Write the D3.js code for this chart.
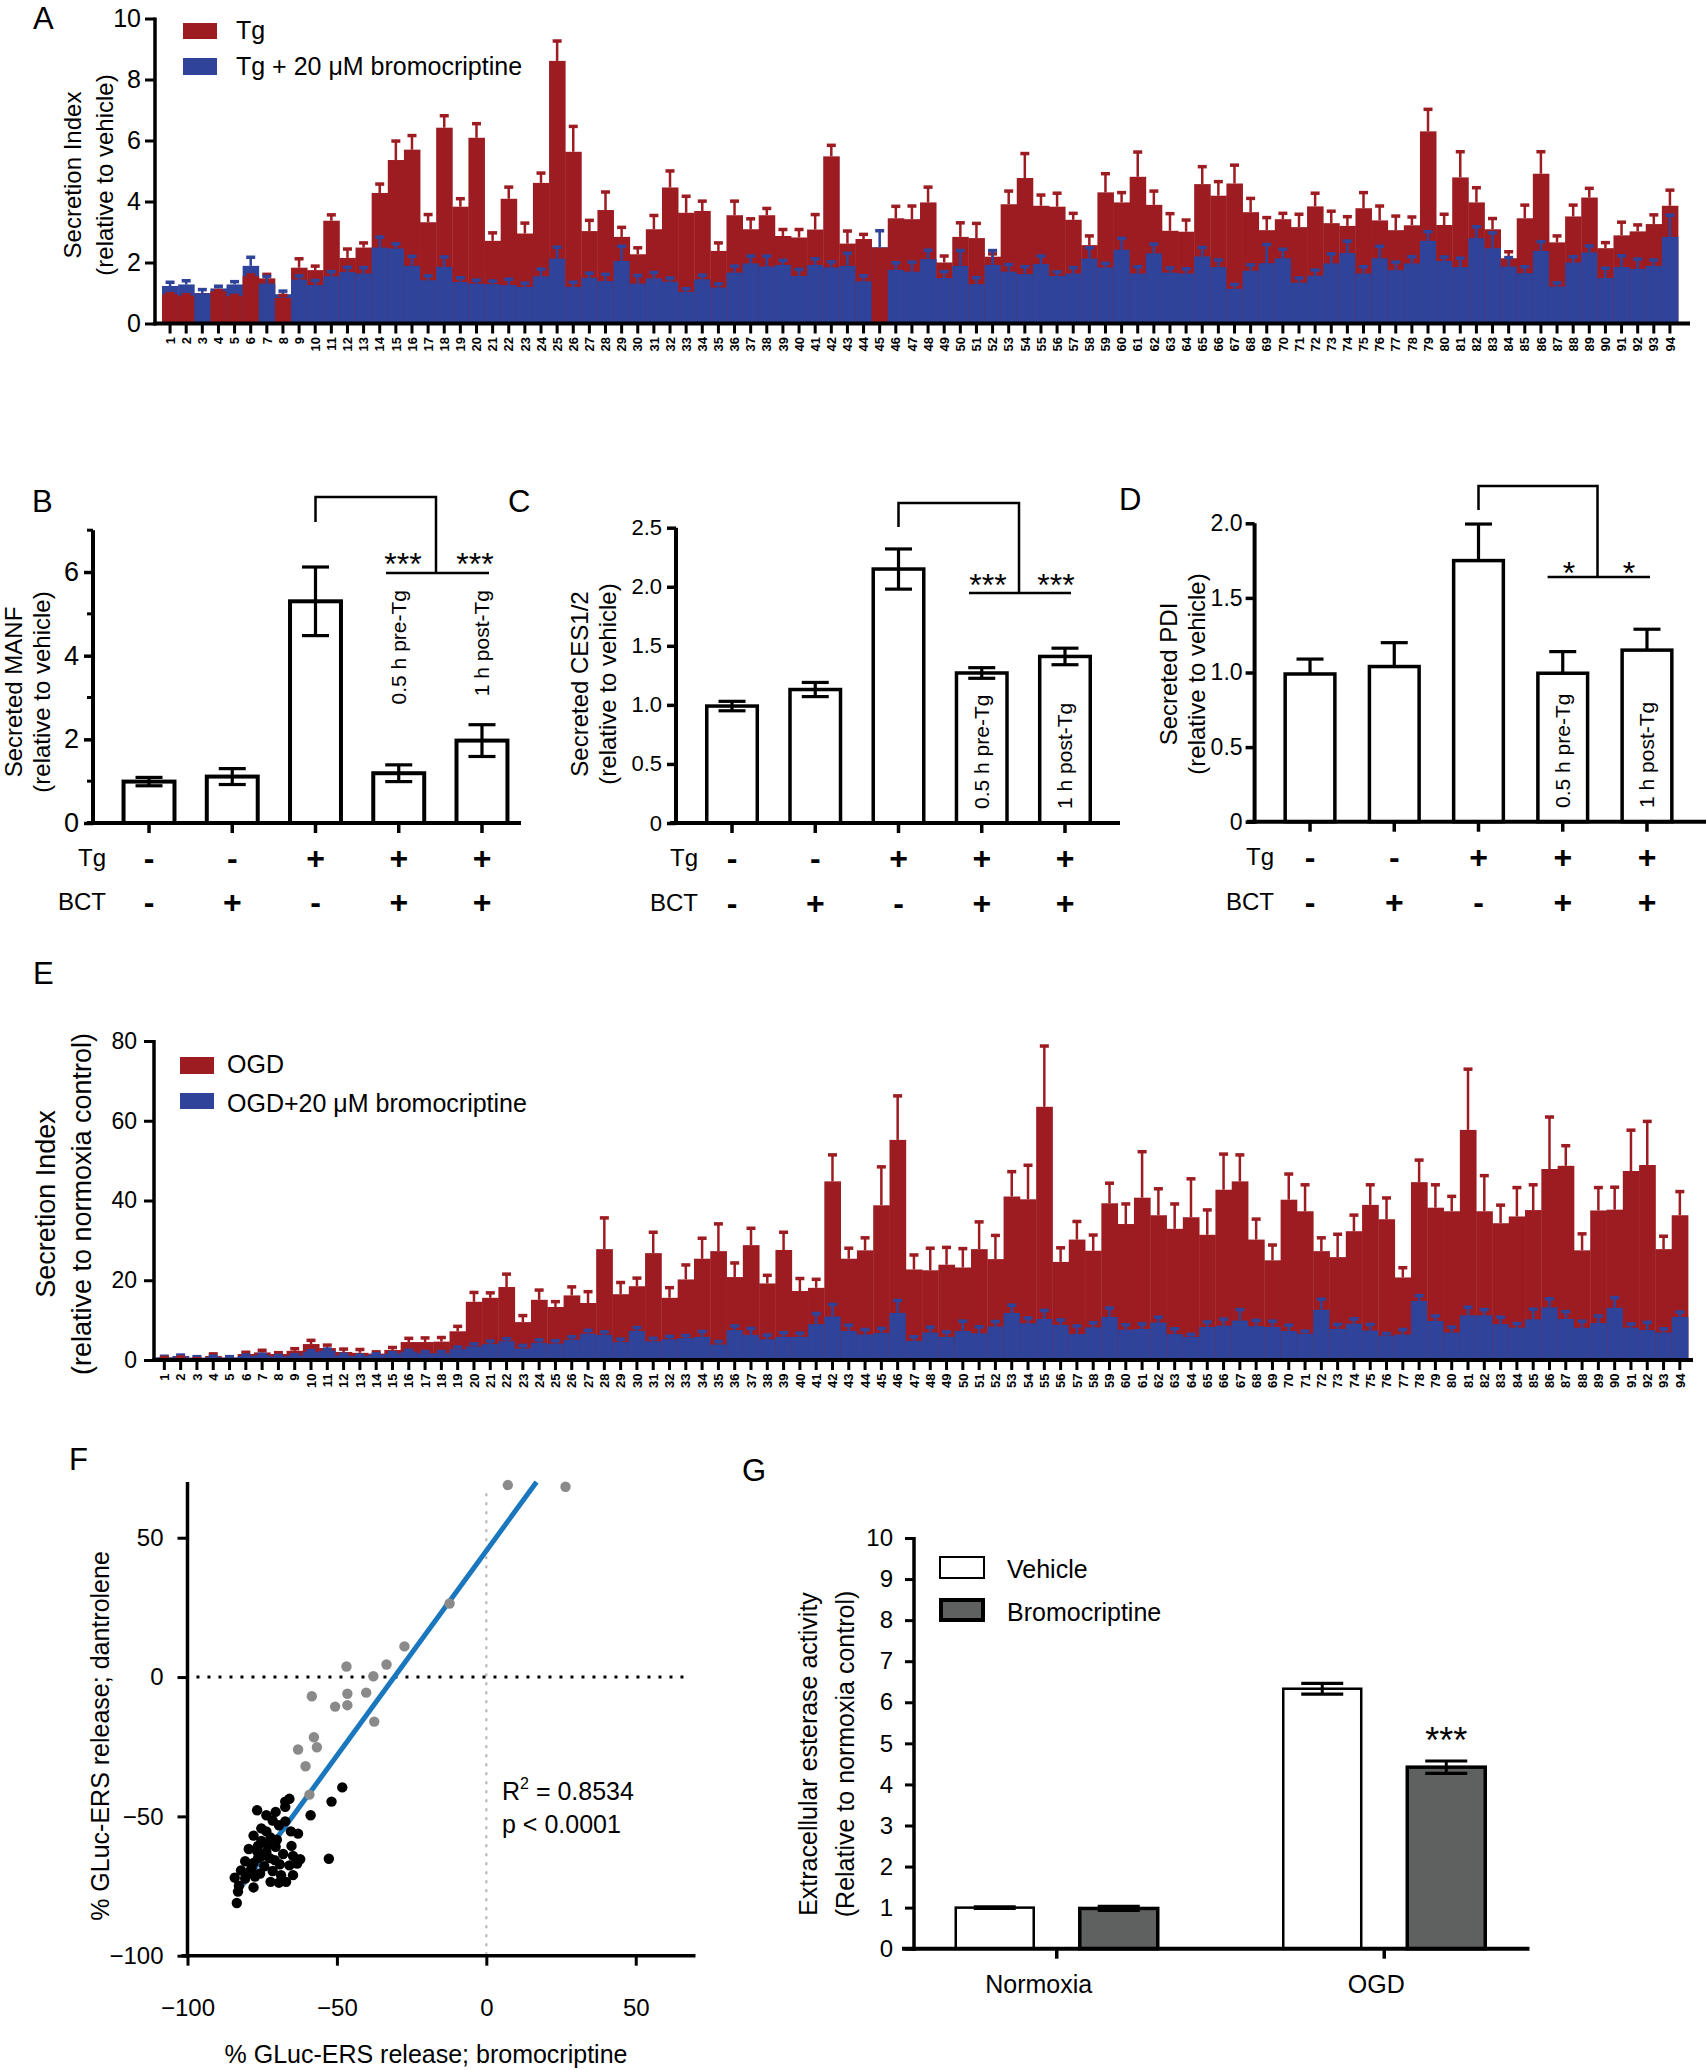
<!DOCTYPE html>
<html><head><meta charset="utf-8">
<script src="https://cdn.jsdelivr.net/npm/d3@7"></script>
<style>
body{margin:0;background:#fff;}
svg{display:block;}
</style></head><body>
<svg id="fig" width="1706" height="2070"></svg>
<script>
// ---------------- DATA ----------------
const wells = d3.range(1, 95).map(String);

// Panel A: Tg vs Tg + 20 uM bromocriptine
const aTg = [0.96,0.91,1.0,1.06,0.9,1.55,1.48,0.84,1.83,1.75,
 3.37,2.15,2.49,4.28,5.36,5.70,3.32,6.42,3.83,6.09,
 2.71,4.09,2.95,4.61,8.61,5.63,3.03,3.72,2.84,2.27,
 3.09,4.46,3.63,3.69,2.38,3.55,3.09,3.55,2.87,2.82,
 3.08,5.48,2.62,2.77,2.49,3.45,3.42,3.97,2.0,2.84,
 2.8,2.19,3.91,4.77,3.86,3.83,3.4,2.57,4.3,3.97,
 4.81,3.89,3.04,3.01,4.57,4.19,4.59,3.65,3.06,3.42,
 3.16,3.84,3.29,3.2,3.78,3.38,3.06,3.22,6.3,3.23,
 4.79,3.97,3.09,2.14,3.45,4.91,2.66,3.51,4.13,2.47,
 2.89,3.02,3.26,3.86];
const aTgErr = [0.03,0.04,0,0.03,0.03,0.05,0.14,0.09,0.3,0.14,
 0.2,0.3,0.16,0.3,0.63,0.47,0.26,0.4,0.27,0.47,
 0.27,0.39,0.35,0.33,0.66,0.84,0.36,0.6,0.32,0.22,
 0.46,0.55,0.55,0.33,0.27,0.47,0.35,0.23,0.22,0.27,
 0.5,0.37,0.42,0.16,0,0.4,0.44,0.51,0.22,0.47,
 0.49,0.1,0.44,0.81,0.36,0.45,0.22,0.31,0.62,0.33,
 0.82,0.46,0.57,0.39,0.58,0.47,0.61,0.46,0.42,0.2,
 0.43,0.44,0.4,0.31,0.52,0.48,0.47,0.28,0.73,0.36,
 0.85,0.49,0.36,0.22,0.44,0.73,0.22,0.38,0.31,0.19,
 0.44,0.22,0.31,0.52];
const aBct = [1.23,1.28,0.99,1.15,1.28,1.89,1.31,0.96,1.44,1.26,
 1.55,1.69,1.64,2.49,2.46,1.89,1.42,1.86,1.36,1.31,
 1.29,1.26,1.2,1.55,2.13,1.2,1.5,1.39,2.05,1.31,
 1.48,1.37,1.04,1.45,1.18,1.67,1.97,1.87,1.92,1.56,
 1.92,1.84,1.89,1.38,2.5,1.76,1.7,2.11,1.49,1.89,
 1.29,1.92,1.7,1.62,1.95,1.56,1.64,2.13,1.84,2.42,
 1.64,2.3,1.67,1.64,2.2,1.85,1.14,1.73,1.98,2.14,
 1.34,1.57,1.97,2.31,1.64,2.14,1.75,1.97,2.71,2.05,
 1.85,2.8,2.47,1.87,1.65,2.38,1.21,2.0,2.33,1.49,
 1.85,1.79,1.89,2.84];
const aBctErr = [0.13,0.13,0.13,0.08,0.1,0.29,0.24,0.11,0.13,0.16,
 0.16,0.16,0.2,0.35,0.16,0.32,0.15,0.33,0.15,0.12,
 0.11,0.2,0.13,0.24,0.38,0.16,0.16,0.23,0.49,0.27,
 0.2,0.13,0.11,0.14,0.13,0.22,0.25,0.35,0.16,0.22,
 0.21,0.19,0.42,0.19,0.55,0.24,0.32,0.3,0.22,0.51,
 0.22,0.48,0.24,0.25,0.27,0.14,0.2,0.36,0.14,0.38,
 0.23,0.31,0.16,0.16,0.3,0.24,0.15,0.2,0.62,0.3,
 0.16,0.19,0.32,0.4,0.23,0.4,0.27,0.23,0.31,0.14,
 0.3,0.38,0.51,0.3,0.22,0.31,0.13,0.2,0.22,0.33,
 0.38,0.33,0.2,0.72];
const aYTicks = [0,2,4,6,8,10];

// Panel E: OGD vs OGD + 20 uM bromocriptine
const eOgd = [0.5,0.6,0.3,1.0,0.6,1.5,1.9,1.5,2.3,4.0,
 3.0,2.0,1.8,1.6,2.5,4.5,4.5,4.6,7.2,14.6,
 15.6,18.3,9.5,15.1,13.3,16.2,14.3,27.8,16.5,18.5,
 26.8,15.6,20.2,25.4,27.3,20.8,28.8,19.2,27.6,17.3,
 18.1,44.8,25.4,27.5,38.8,55.2,22.7,22.5,23.9,23.2,
 27.8,25.3,41.0,40.3,63.5,24.6,30.2,27.4,39.3,34.1,
 40.7,36.3,32.9,35.8,31.4,42.7,44.8,30.2,25.0,40.2,
 37.3,27.3,25.8,32.3,38.9,35.3,20.7,44.6,38.2,37.3,
 57.7,37.3,34.3,36.0,37.6,47.9,48.7,27.5,37.5,37.7,
 47.4,48.9,27.8,36.3];
const eOgdErr = [0.2,0.2,0.1,0.6,0.2,0.5,0.6,0.4,0.6,1.0,
 0.8,0.8,0.9,0.5,0.7,1.0,1.1,1.1,1.3,2.4,
 1.3,3.3,1.7,2.5,1.4,2.2,2.9,7.9,3.0,2.1,
 5.3,2.6,3.7,5.2,6.9,3.6,4.3,2.1,4.5,3.2,
 2.2,6.7,2.7,3.2,9.7,11.1,3.7,5.6,4.4,4.8,
 6.9,6.0,6.3,8.6,15.3,3.6,4.6,4.0,5.1,5.1,
 11.6,6.7,6.3,9.7,6.3,9.0,6.7,5.2,3.9,6.5,
 6.7,3.4,5.8,4.1,5.1,5.4,2.5,5.6,5.8,3.8,
 15.3,9.0,4.6,7.3,6.4,13.1,5.1,4.2,5.8,5.7,
 10.3,11.0,3.3,6.0];
const eBct = [0.7,1.0,0.6,0.7,0.6,1.0,1.2,0.9,1.1,2.0,
 2.3,1.1,1.0,1.3,1.6,2.1,1.7,1.7,2.7,3.4,
 4.0,4.7,2.9,4.3,4.1,5.1,6.6,6.3,4.5,7.3,
 4.7,5.2,5.5,5.8,3.9,7.5,6.3,5.2,5.8,5.8,
 9.0,10.9,7.3,6.4,6.8,11.8,4.8,6.9,5.8,7.3,
 6.7,8.4,11.8,9.2,10.3,8.8,6.5,8.2,10.8,7.6,
 7.8,9.4,6.5,5.8,8.3,8.6,9.9,8.5,8.3,7.3,
 6.6,12.6,7.8,9.1,7.4,6.1,6.4,14.8,9.8,6.9,
 11.2,11.2,9.0,8.1,10.2,13.2,10.3,8.1,9.3,13.1,
 8.1,7.5,6.9,10.8];
const eBctErr = [0.3,0.3,0.3,0.3,0.3,0.3,0.3,0.3,0.3,0.4,
 0.5,0.4,0.3,0.3,0.3,0.4,0.5,0.5,0.6,0.7,
 0.8,0.7,0.8,0.8,0.8,0.8,0.9,0.8,0.8,0.9,
 0.8,0.8,0.7,1.4,0.8,1.1,1.7,1.1,1.1,1.0,
 2.7,3.1,1.5,1.3,1.2,3.2,1.1,1.4,1.3,2.5,
 1.7,1.3,2.0,1.4,2.2,1.3,2.1,1.2,2.3,1.3,
 1.3,1.4,1.4,0.7,1.3,1.7,2.8,1.5,1.5,1.5,
 0.7,2.7,1.2,1.3,1.6,0.6,1.3,1.4,1.3,1.4,
 2.1,1.5,1.8,1.1,2.6,2.2,1.9,1.7,1.8,2.6,
 1.0,2.0,1.0,1.3];
const eYTicks = [0,20,40,60,80];

// Panels B-D
const bcdCats = ["c1","c2","c3","c4","c5"];
const tgSigns = ["-","-","+","+","+"];
const bctSigns = ["-","+","-","+","+"];
const bcdNotes = ["","","","0.5 h pre-Tg","1 h post-Tg"];
const bManf = [0.99,1.11,5.30,1.19,1.97];
const bManfErr = [0.10,0.19,0.82,0.20,0.38];
const bTicks = [0,2,4,6];
const bMinorTicks = [1,3,5,7];
const cCes = [0.99,1.13,2.15,1.27,1.41];
const cCesErr = [0.04,0.06,0.17,0.045,0.07];
const cTicks = [0,0.5,1.0,1.5,2.0,2.5];
const dPdi = [0.99,1.04,1.75,0.995,1.15];
const dPdiErr = [0.10,0.16,0.245,0.145,0.14];
const dTicks = [0,0.5,1.0,1.5,2.0];

// Panel F: scatter
const fGrayX = [7.2,26.5,-12.3,-27.4,-46.8,-33.4,-37.8,-40.2,-46.5,-50.6,-46.5,-58.4,-37.5,-57.7,-56.7,-63.0,-60.5,-59.2];
const fGrayY = [68.9,68.3,26.4,11.0,3.8,4.5,0.3,-5.6,-6.0,-10.6,-10.1,-6.9,-16.0,-21.6,-25.2,-26.0,-32.0,-42.2];
const fBlackX = [-48.2,-51.8,-58.8,-52.7,-65.9,-67.3,-67.3,-76.7,-70.5,-73.6,-71.5,-69.4,-75.3,-65.4,-63.0,-77.9,-72.2,-75.3,-73.2,-65.2,
 -70.5,-79.5,-76.7,-68.0,-64.7,-72.5,-62.3,-80.7,-77.9,-69.1,-74.3,-65.9,-63.3,-82.1,-79.5,-75.7,-71.5,-84.2,-80.7,-77.4,
 -64.7,-72.2,-69.4,-67.0,-82.8,-77.9,-83.1,-83.5,-73.6,-70.1,-76.4,-70.8,-75.0,-78.6,-68.7,-67.3,-73.6,-76.4];
const fBlackY = [-39.6,-44.7,-49.6,-65.2,-43.7,-44.7,-46.6,-47.8,-48.4,-49.6,-51.5,-53.2,-54.3,-55.4,-56.2,-56.9,-57.6,-58.8,-60.3,-60.6,
 -60.9,-61.7,-62.5,-63.5,-64.2,-65.0,-65.4,-66.1,-66.7,-67.2,-67.9,-67.6,-66.9,-69.4,-70.1,-70.5,-69.6,-72.0,-72.3,-71.6,
 -71.1,-73.5,-73.8,-73.5,-74.9,-75.5,-77.0,-81.1,-62.8,-58.4,-65.0,-65.7,-64.2,-68.6,-71.1,-51.8,-55.4,-60.6];
const fFitSlope = 1.47, fFitIntercept = 45.3;
const fFitXStart = -84;
const fTicks = [-100,-50,0,50];

// Panel G
const gGroups = ["Normoxia","OGD"];
const gSeries = ["Vehicle","Bromocriptine"];
const gVehicle = [1.0,6.33];
const gVehicleErr = [0.02,0.13];
const gBromo = [0.98,4.42];
const gBromoErr = [0.05,0.15];
const gTicks = [0,1,2,3,4,5,6,7,8,9,10];

// ---------------- DRAW ----------------
const FONT = "'Liberation Sans', Arial, Helvetica, sans-serif";
const RED = "#9d1c21", BLUE = "#2e4399";
const LETTER_FS = 31;
const svg = d3.select("#fig").attr("font-family", FONT);
svg.append("rect").attr("width",1706).attr("height",2070).attr("fill","#fff");

function text(x, y, s, fs, opt = {}) {
  const t = svg.append("text").attr("font-size", fs).attr("font-family", FONT).attr("fill", "#000").text(s);
  if (opt.rotate) t.attr("transform", `translate(${x},${y}) rotate(-90)`);
  else t.attr("x", x).attr("y", y);
  if (opt.anchor) t.attr("text-anchor", opt.anchor);
  if (opt.weight) t.attr("font-weight", opt.weight);
  if (opt.dy) t.attr("dy", opt.dy);
  return t;
}
function line(x1, y1, x2, y2, sw, col = "#000") {
  return svg.append("line").attr("x1", x1).attr("y1", y1).attr("x2", x2).attr("y2", y2)
    .attr("stroke", col).attr("stroke-width", sw);
}
function styleAxis(g, fs, sw) {
  g.attr("font-family", FONT).attr("font-size", fs);
  g.select(".domain").remove();
  g.selectAll(".tick line").attr("stroke", "#000").attr("stroke-width", sw);
  g.selectAll(".tick text").attr("fill", "#000");
}

// ---- overlapping bar panels (A, E) ----
function overlapPanel(o) {
  const x = d3.scaleBand().domain(wells).range(o.xr).padding(0);
  const y = d3.scaleLinear().domain(o.yd).range(o.yr);
  const g = svg.append("g");
  const bw = x.bandwidth();
  wells.forEach((w, i) => {
    const items = [{v: o.s1[i], e: o.e1[i], c: RED}, {v: o.s2[i], e: o.e2[i], c: BLUE}]
      .sort((a, b) => b.v - a.v);
    items.forEach(it => {
      const x0 = x(w), cx = x0 + bw / 2;
      g.append("rect").attr("x", x0).attr("y", y(it.v)).attr("width", bw + 0.4)
        .attr("height", y(0) - y(it.v)).attr("fill", it.c);
      if (it.e > 0) {
        g.append("line").attr("x1", cx).attr("x2", cx).attr("y1", y(it.v)).attr("y2", y(it.v + it.e))
          .attr("stroke", it.c).attr("stroke-width", 2.5);
        g.append("rect").attr("x", cx - 4.5).attr("y", y(it.v + it.e) - 1.5).attr("width", 9).attr("height", 3.5)
          .attr("fill", it.c);
      }
    });
  });
  const ya = svg.append("g").attr("transform", `translate(${o.axisX},0)`)
    .call(d3.axisLeft(y).tickValues(o.yticks).tickSize(10).tickPadding(o.ypad).tickFormat(d3.format("d")));
  styleAxis(ya, o.yfs, 3);
  line(o.axisX, y(o.yd[1]) - 1, o.axisX, y(0) + 2, 3.5);
  const xa = svg.append("g").attr("transform", `translate(0,${y(0)})`)
    .call(d3.axisBottom(x).tickSize(10).tickSizeOuter(0));
  styleAxis(xa, 13, 3);
  xa.selectAll(".tick text").attr("transform", "rotate(-90)").attr("text-anchor", "end")
    .attr("x", -13.5).attr("y", 0).attr("dy", "0.36em").attr("font-weight", "bold");
  line(o.axisX - 1.5, y(0), o.axisEnd, y(0), 4);
  return {x, y};
}

// Panel A
overlapPanel({xr: [162, 1678], yd: [0, 10], yr: [323.5, 18.5], s1: aTg, e1: aTgErr, s2: aBct, e2: aBctErr,
  axisX: 155, axisEnd: 1690, yticks: aYTicks, ypad: 4, yfs: 25});
text(33, 29, "A", LETTER_FS);
svg.append("rect").attr("x", 183).attr("y", 23).attr("width", 34).attr("height", 16).attr("fill", RED);
svg.append("rect").attr("x", 183).attr("y", 58).attr("width", 34).attr("height", 17).attr("fill", BLUE);
text(236, 39, "Tg", 25);
text(236, 75, "Tg + 20 μM bromocriptine", 25);
text(73, 175, "Secretion Index", 24, {rotate: true, anchor: "middle", dy: "0.35em"});
text(105, 175, "(relative to vehicle)", 24, {rotate: true, anchor: "middle", dy: "0.35em"});

// Panel E
overlapPanel({xr: [156.2, 1688], yd: [0, 80], yr: [1360, 1041], s1: eOgd, e1: eOgdErr, s2: eBct, e2: eBctErr,
  axisX: 154, axisEnd: 1693, yticks: eYTicks, ypad: 7, yfs: 23});
text(33, 984, "E", LETTER_FS);
svg.append("rect").attr("x", 180).attr("y", 1057).attr("width", 34).attr("height", 17).attr("fill", RED);
svg.append("rect").attr("x", 180).attr("y", 1093).attr("width", 34).attr("height", 16).attr("fill", BLUE);
text(227, 1073, "OGD", 25);
text(227, 1112, "OGD+20 μM bromocriptine", 25);
text(46, 1204, "Secretion Index", 27, {rotate: true, anchor: "middle", dy: "0.35em"});
text(82, 1204, "(relative to normoxia control)", 27, {rotate: true, anchor: "middle", dy: "0.35em"});

// ---- B, C, D ----
function barPanel(o) {
  const x = d3.scaleBand().domain(bcdCats).range(o.xr).paddingInner(o.pi).paddingOuter(o.pi / 2);
  const y = d3.scaleLinear().domain(o.yd).range(o.yr);
  const bw = x.bandwidth();
  const g = svg.append("g");
  g.selectAll("rect").data(o.vals).join("rect")
    .attr("x", (d, i) => x(bcdCats[i])).attr("y", d => y(d)).attr("width", bw).attr("height", d => y(0) - y(d))
    .attr("fill", "#fff").attr("stroke", "#000").attr("stroke-width", o.sw);
  o.vals.forEach((v, i) => {
    const cx = x(bcdCats[i]) + bw / 2, e = o.errs[i];
    const lo = o.both ? v - e : v;
    g.append("line").attr("x1", cx).attr("x2", cx).attr("y1", y(lo)).attr("y2", y(v + e))
      .attr("stroke", "#000").attr("stroke-width", 3.2);
    g.append("line").attr("x1", cx - 13.5).attr("x2", cx + 13.5).attr("y1", y(v + e)).attr("y2", y(v + e))
      .attr("stroke", "#000").attr("stroke-width", 3.2);
    if (o.both) g.append("line").attr("x1", cx - 13.5).attr("x2", cx + 13.5).attr("y1", y(lo)).attr("y2", y(lo))
      .attr("stroke", "#000").attr("stroke-width", 3.2);
    line(cx, y(0), cx, y(0) + 10, 3.5);
    text(cx, o.tgY, tgSigns[i], 32, {anchor: "middle", weight: "bold", dy: "0.35em"});
    text(cx, o.bctY, bctSigns[i], 32, {anchor: "middle", weight: "bold", dy: "0.35em"});
    if (bcdNotes[i]) {
      if (o.noteTop) text(cx, o.noteY, bcdNotes[i], 21, {rotate: true, anchor: "end", dy: "0.35em"});
      else text(cx, o.noteY, bcdNotes[i], 21, {rotate: true, anchor: "start", dy: "0.35em"});
    }
  });
  const ya = svg.append("g").attr("transform", `translate(${o.axisX},0)`)
    .call(d3.axisLeft(y).tickValues(o.ticks).tickSize(9).tickPadding(o.ypad).tickFormat(o.fmt));
  styleAxis(ya, o.yfs, 3.5);
  if (o.minor) o.minor.forEach(t => line(o.axisX - 6, y(t), o.axisX, y(t), 3));
  line(o.axisX, y(o.yd[1]), o.axisX, y(0) + 2, 4);
  line(o.xAxisStart, y(0), o.xAxisEnd, y(0), 4);
  text(o.rowLabelX, o.tgY, "Tg", 24, {anchor: "end", dy: "0.35em"});
  text(o.rowLabelX, o.bctY, "BCT", 24, {anchor: "end", dy: "0.35em"});
  const c3 = x(bcdCats[2]) + bw / 2;
  svg.append("path").attr("d", `M${c3},${o.br[0]} V${o.br[1]} H${o.br[2]} V${o.br[3]}`)
    .attr("fill", "none").attr("stroke", "#000").attr("stroke-width", 2.5);
  line(o.br[4], o.br[3], o.br[5], o.br[3], 2.5);
  text(o.starX[0], o.starY, o.star, 32, {anchor: "middle"});
  text(o.starX[1], o.starY, o.star, 32, {anchor: "middle"});
  text(o.letter[1], o.letter[2], o.letter[0], LETTER_FS);
  text(o.title[0], o.title[2], o.title[3], 24, {rotate: true, anchor: "middle", dy: "0.35em"});
  text(o.title[1], o.title[2], "(relative to vehicle)", 24, {rotate: true, anchor: "middle", dy: "0.35em"});
}

barPanel({xr: [107.4, 523.6], pi: 0.388, yd: [0, 7], yr: [823, 530.2], vals: bManf, errs: bManfErr, both: true, sw: 4,
  ticks: bTicks, minor: bMinorTicks, fmt: d3.format("d"), ypad: 5, yfs: 27, axisX: 93, xAxisStart: 87, xAxisEnd: 521,
  tgY: 858, bctY: 902, rowLabelX: 106, noteTop: true, noteY: 590,
  br: [522, 497, 436, 573, 386, 489], starX: [403, 475], starY: 575, star: "***",
  letter: ["B", 32, 512], title: [14, 42, 692, "Secreted MANF"]});

barPanel({xr: [690.4, 1106.6], pi: 0.393, yd: [0, 2.5], yr: [823, 527.7], vals: cCes, errs: cCesErr, both: true, sw: 3.5,
  ticks: cTicks, fmt: d => d === 0 ? "0" : d3.format(".1f")(d), ypad: 5, yfs: 22, axisX: 676, xAxisStart: 670, xAxisEnd: 1120,
  tgY: 858, bctY: 903, rowLabelX: 698, noteTop: false, noteY: 809,
  br: [527, 503, 1019, 593, 969, 1071], starX: [988, 1056], starY: 596, star: "***",
  letter: ["C", 508, 512], title: [580, 608, 684, "Secreted CES1/2"]});

barPanel({xr: [1267.9, 1689.1], pi: 0.41, yd: [0, 2.0], yr: [821.7, 523.3], vals: dPdi, errs: dPdiErr, both: false, sw: 3.5,
  ticks: dTicks, fmt: d => d === 0 ? "0" : d3.format(".1f")(d), ypad: 3, yfs: 23, axisX: 1254.6, xAxisStart: 1247, xAxisEnd: 1706,
  tgY: 857, bctY: 902, rowLabelX: 1274, noteTop: false, noteY: 808,
  br: [510, 486, 1597.5, 577, 1547.6, 1650], starX: [1569, 1629], starY: 584, star: "*",
  letter: ["D", 1119, 510], title: [1168.5, 1197, 674, "Secreted PDI"]});

// ---- Panel F ----
{
  const x = d3.scaleLinear().domain([-100, 70]).range([187.5, 695.5]);
  const y = d3.scaleLinear().domain([-100, 70]).range([1955.7, 1482]);
  line(x(0), y(66), x(0), y(-100), 2.2, "#b8b8b8").attr("stroke-dasharray", "3,6");
  line(x(-97), y(0), x(68), y(0), 3, "#000").attr("stroke-dasharray", "3,8");
  const xEnd = (70 - fFitIntercept) / fFitSlope;
  line(x(fFitXStart), y(fFitIntercept + fFitSlope * fFitXStart), x(xEnd), y(70), 5, "#1a76bd");
  svg.append("g").selectAll("circle").data(fBlackX).join("circle")
    .attr("cx", d => x(d)).attr("cy", (d, i) => y(fBlackY[i])).attr("r", 5.2).attr("fill", "#000");
  svg.append("g").selectAll("circle").data(fGrayX).join("circle")
    .attr("cx", d => x(d)).attr("cy", (d, i) => y(fGrayY[i])).attr("r", 5.2).attr("fill", "#8a8a8a");
  const ya = svg.append("g").attr("transform", `translate(${x(-100)},0)`)
    .call(d3.axisLeft(y).tickValues(fTicks).tickSize(10).tickPadding(14));
  styleAxis(ya, 24, 3);
  const xa = svg.append("g").attr("transform", `translate(0,${y(-100)})`)
    .call(d3.axisBottom(x).tickValues(fTicks).tickSize(10).tickPadding(33));
  styleAxis(xa, 24, 3);
  line(x(-100), y(70), x(-100), y(-100) + 2, 3.5);
  line(x(-100) - 6, y(-100), x(70), y(-100), 3.5);
  const r = text(502, 1800, "R", 25);
  r.append("tspan").attr("dy", -11).attr("font-size", 16).text("2");
  r.append("tspan").attr("dy", 11).text(" = 0.8534");
  text(502, 1833, "p < 0.0001", 25);
  text(69, 1470, "F", LETTER_FS);
  text(100, 1736, "% GLuc-ERS release; dantrolene", 25, {rotate: true, anchor: "middle", dy: "0.35em"});
  text(426, 2063, "% GLuc-ERS release; bromocriptine", 25, {anchor: "middle"});
}

// ---- Panel G ----
{
  const x = d3.scaleBand().domain(gGroups).range([893, 1548]).padding(0);
  const xi = d3.scaleBand().domain(gSeries).range([-102.5, 102.5]).paddingInner(0.347);
  const y = d3.scaleLinear().domain([0, 10]).range([1948.7, 1538]);
  const series = [
    {name: "Vehicle", vals: gVehicle, errs: gVehicleErr, fill: "#fff", sw: 2.5},
    {name: "Bromocriptine", vals: gBromo, errs: gBromoErr, fill: "#5f6160", sw: 3.5}
  ];
  series.forEach(s => {
    gGroups.forEach((gname, i) => {
      const gx = x(gname) + x.bandwidth() / 2;
      const x0 = gx + xi(s.name) + 1.5, w = xi.bandwidth() - 3;
      const v = s.vals[i], e = s.errs[i];
      svg.append("rect").attr("x", x0).attr("y", y(v)).attr("width", w).attr("height", y(0) - y(v))
        .attr("fill", s.fill).attr("stroke", "#000").attr("stroke-width", s.sw);
      const cx = x0 + w / 2;
      line(cx, y(v - e), cx, y(v + e), 3);
      line(cx - 21, y(v + e), cx + 21, y(v + e), 3.2);
      line(cx - 21, y(v - e), cx + 21, y(v - e), 3.2);
    });
  });
  const ya = svg.append("g").attr("transform", "translate(914,0)")
    .call(d3.axisLeft(y).tickValues(gTicks).tickSize(9).tickPadding(12));
  styleAxis(ya, 24, 3);
  line(914, y(10) - 1, 914, y(0) + 2, 3.5);
  const xa = svg.append("g").attr("transform", `translate(0,${y(0)})`)
    .call(d3.axisBottom(x).tickSize(10).tickSizeOuter(0).tickPadding(17));
  styleAxis(xa, 25, 3.5);
  xa.selectAll(".tick text").attr("dx", (d, i) => i === 0 ? -18 : -8);
  line(902, y(0), 1529.5, y(0), 4);
  const bx = x("OGD") + x.bandwidth() / 2 + xi("Bromocriptine") + xi.bandwidth() / 2;
  text(bx, y(gBromo[1] + gBromoErr[1]) - 8, "***", 36, {anchor: "middle"});
  svg.append("rect").attr("x", 940).attr("y", 1557).attr("width", 44).attr("height", 21)
    .attr("fill", "#fff").attr("stroke", "#000").attr("stroke-width", 2);
  svg.append("rect").attr("x", 941).attr("y", 1600).attr("width", 42).attr("height", 20)
    .attr("fill", "#5f6160").attr("stroke", "#000").attr("stroke-width", 4);
  text(1007, 1578, "Vehicle", 25);
  text(1007, 1621, "Bromocriptine", 25);
  text(742, 1481, "G", LETTER_FS);
  text(808, 1754, "Extracellular esterase activity", 25, {rotate: true, anchor: "middle", dy: "0.35em"});
  text(845, 1754, "(Relative to normoxia control)", 25, {rotate: true, anchor: "middle", dy: "0.35em"});
}
</script>
</body></html>
